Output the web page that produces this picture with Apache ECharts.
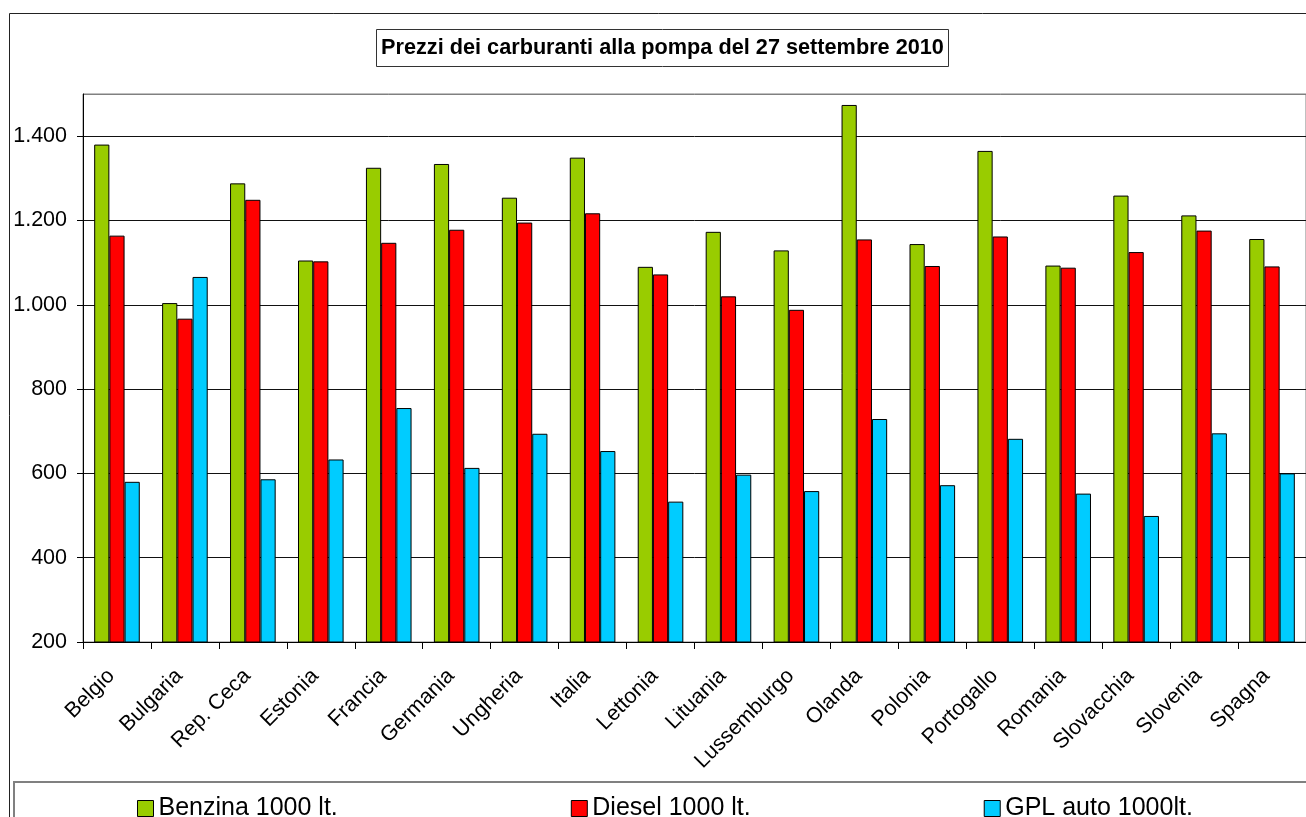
<!DOCTYPE html>
<html>
<head>
<meta charset="utf-8">
<script src="https://cdn.jsdelivr.net/npm/echarts@6/dist/echarts.min.js"></script>
<style>
  html, body { margin: 0; padding: 0; background: #fff; }
  #main { width: 1306px; height: 817px; }
</style>
</head>
<body>
<div id="main"></div>
<script>
var paesi = ['Belgio', 'Bulgaria', 'Rep. Ceca', 'Estonia', 'Francia', 'Germania', 'Ungheria', 'Italia', 'Lettonia',
  'Lituania', 'Lussemburgo', 'Olanda', 'Polonia', 'Portogallo', 'Romania', 'Slovacchia', 'Slovenia', 'Spagna'];
var benzina = [1380, 1004, 1288, 1105, 1325, 1334, 1254, 1349, 1090, 1173, 1129, 1474, 1144, 1365, 1093, 1259, 1212, 1156];
var diesel = [1164, 967, 1249, 1103, 1147, 1178, 1195, 1217, 1072, 1020, 988, 1155, 1092, 1162, 1088, 1125, 1176, 1091];
var gpl = [580, 1066, 586, 633, 755, 613, 694, 653, 533, 597, 558, 729, 572, 682, 552, 499, 695, 600];
var nomiSerie = ['Benzina 1000 lt.', 'Diesel 1000 lt.', 'GPL auto 1000lt.'];
var colori = ['#99cc00', '#ff0000', '#00ccff'];

var font = '"Liberation Sans", Arial, sans-serif';

function migliaia(v) {
  return String(v).replace(/\B(?=(\d{3})+(?!\d))/g, '.');
}

var myChart = echarts.init(document.getElementById('main'));

function serie(nome, dati, i) {
  return {
    name: nome,
    type: 'bar',
    data: dati,
    barWidth: 15.2,
    barGap: '0%',
    itemStyle: { color: colori[i], borderColor: '#000', borderWidth: 1 }
  };
}

var option = {
  backgroundColor: '#fff',
  animation: false,
  textStyle: { fontFamily: font },
  graphic: [
    { type: 'rect', z: -10, shape: { x: 9.5, y: 13.5, width: 1400, height: 900 },
      style: { fill: 'none', stroke: '#222', lineWidth: 1 } },
    { type: 'rect', z: -9, shape: { x: 14, y: 782, width: 1400, height: 100 },
      style: { fill: '#fff', stroke: '#808080', lineWidth: 2 } }
  ],
  title: {
    text: 'Prezzi dei carburanti alla pompa del 27 settembre 2010',
    left: 376,
    top: 29,
    padding: [8, 5, 8, 5],
    borderColor: '#333',
    borderWidth: 1,
    textStyle: { fontFamily: font, fontSize: 21.7, fontWeight: 'bold', color: '#000' }
  },
  legend: {
    data: nomiSerie,
    left: 132,
    top: 791,
    itemGap: 233,
    itemWidth: 16,
    itemHeight: 16,
    icon: 'rect',
    itemStyle: { borderColor: '#000', borderWidth: 1 },
    textStyle: { fontFamily: font, fontSize: 25, color: '#000' }
  },
  grid: {
    left: 83,
    top: 94,
    right: -12,
    bottom: 175,
    show: true,
    borderColor: '#808080',
    borderWidth: 1
  },
  xAxis: {
    type: 'category',
    data: paesi,
    axisLine: { lineStyle: { color: '#000', width: 1 } },
    axisTick: { show: true, interval: 0, length: 7, lineStyle: { color: '#000' } },
    axisLabel: {
      interval: 0,
      rotate: 45,
      margin: 25,
      padding: [0, 8, 0, 0],
      fontFamily: font,
      fontSize: 21.5,
      color: '#000'
    }
  },
  yAxis: {
    type: 'value',
    min: 200,
    max: 1500,
    interval: 200,
    axisLine: { show: true, lineStyle: { color: '#000', width: 1 } },
    axisTick: { show: true, length: 6, lineStyle: { color: '#000' } },
    axisLabel: {
      margin: 16,
      showMaxLabel: false,
      fontFamily: font,
      fontSize: 21.5,
      color: '#000',
      formatter: migliaia
    },
    splitLine: {
      lineStyle: {
        color: ['#111', '#111', '#111', '#111', '#111', '#111', '#111', '#808080'],
        width: 1
      }
    }
  },
  series: [
    serie(nomiSerie[0], benzina, 0),
    serie(nomiSerie[1], diesel, 1),
    serie(nomiSerie[2], gpl, 2)
  ]
};

myChart.setOption(option);
</script>
</body>
</html>
